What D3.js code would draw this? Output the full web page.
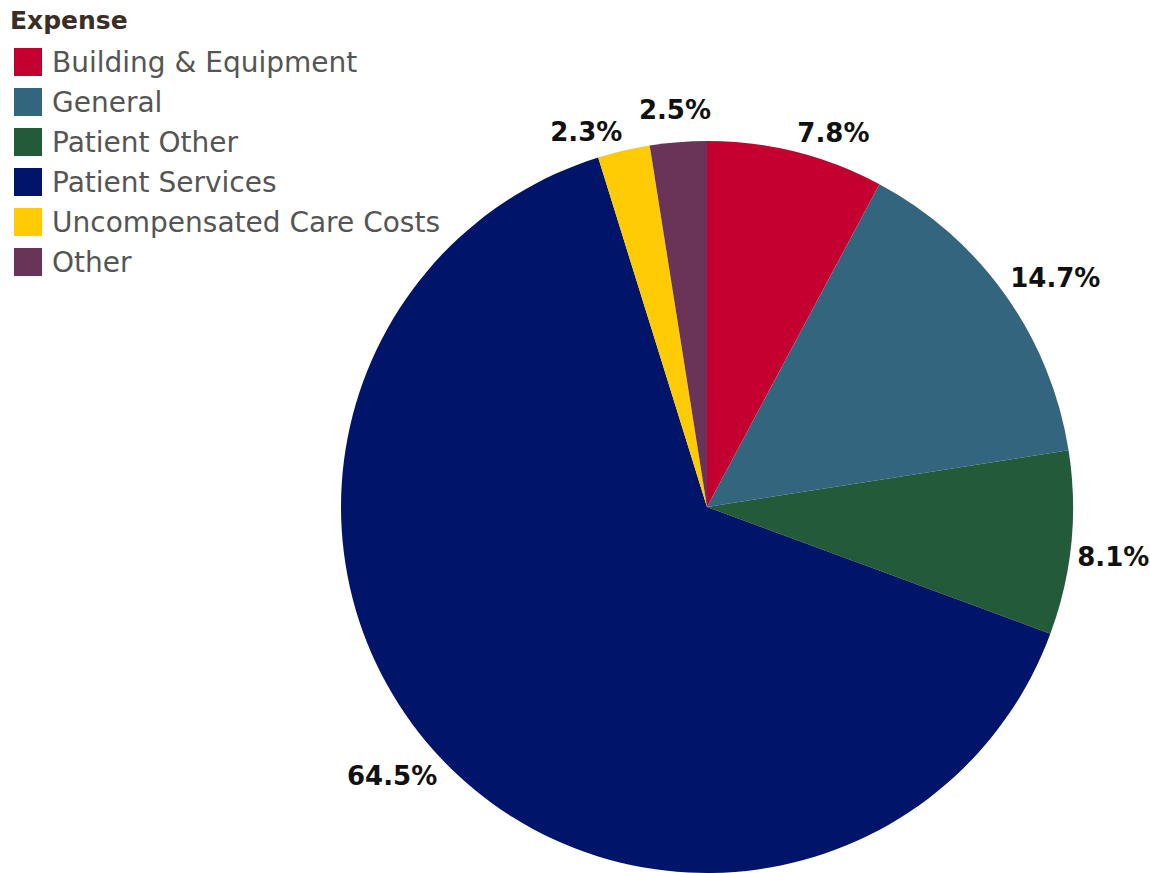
<!DOCTYPE html>
<html><head><meta charset="utf-8">
<script src="https://cdn.jsdelivr.net/npm/d3@7"></script>
<style>body{margin:0;background:#fff;}svg{display:block;}</style>
</head><body>
<svg id="chart" width="1150" height="873"></svg>
<script>
const categories = ["Building & Equipment","General","Patient Other","Patient Services","Uncompensated Care Costs","Other"];
const values = [7.8, 14.7, 8.1, 64.5, 2.3, 2.5];
const colors = ["#c3002f","#33657e","#235a3a","#00146a","#ffcb05","#6a3459"];
const legendTitle = "Expense";

const svg = d3.select("#chart");
const cx = 707, cy = 507, R = 366;
const color = d3.scaleOrdinal().domain(categories).range(colors);

const data = categories.map((c,i)=>({cat:c, value:values[i]}));
const pie = d3.pie().value(d=>d.value).sort(null);
const arc = d3.arc().innerRadius(0).outerRadius(R);
const arcs = pie(data);

const g = svg.append("g").attr("transform",`translate(${cx},${cy})`);
g.selectAll("path").data(arcs).join("path")
  .attr("d",arc).attr("fill",d=>color(d.data.cat));

// labels
const lblR = R + 6;
const lg = g.append("g");
arcs.forEach(d=>{
  const a = (d.startAngle + d.endAngle)/2;
  const s = Math.sin(a), c = -Math.cos(a);
  const ax = lblR*s, ay = lblR*c;
  const t = lg.append("text").text(d3.format(".1f")(d.data.value)+"%")
    .attr("font-family","DejaVu Sans, Verdana, sans-serif")
    .attr("font-weight","bold").attr("font-size",26).attr("fill","#111")
    .attr("dominant-baseline","central");
  const w = t.node().getComputedTextLength(), h = 26;
  const nearTop = Math.abs(s) < 0.12;
  const px = ax + (nearTop ? s*w/2 : Math.sign(s)*w/2);
  const py = ay + Math.sign(c)*(nearTop ? h : h/2);
  t.attr("x",px).attr("y",py).attr("text-anchor","middle");
});

// legend
const leg = svg.append("g");
leg.append("text").text(legendTitle).attr("x",10).attr("y",20)
  .attr("dominant-baseline","central")
  .attr("font-family","DejaVu Sans, Verdana, sans-serif").attr("font-weight","bold")
  .attr("font-size",25).attr("fill","#3a2e26");
const ly = d3.scaleBand().domain(categories).range([42,282]);
const items = leg.selectAll("g.item").data(categories).join("g").attr("class","item")
  .attr("transform",d=>`translate(0,${ly(d)+ly.bandwidth()/2})`);
items.append("rect").attr("x",14).attr("y",-14).attr("width",28).attr("height",28)
  .attr("fill",d=>color(d));
items.append("text").text(d=>d).attr("x",52).attr("y",0).attr("dominant-baseline","central")
  .attr("font-family","DejaVu Sans, Verdana, sans-serif").attr("font-size",28)
  .attr("fill","#555");
</script>
</body></html>
